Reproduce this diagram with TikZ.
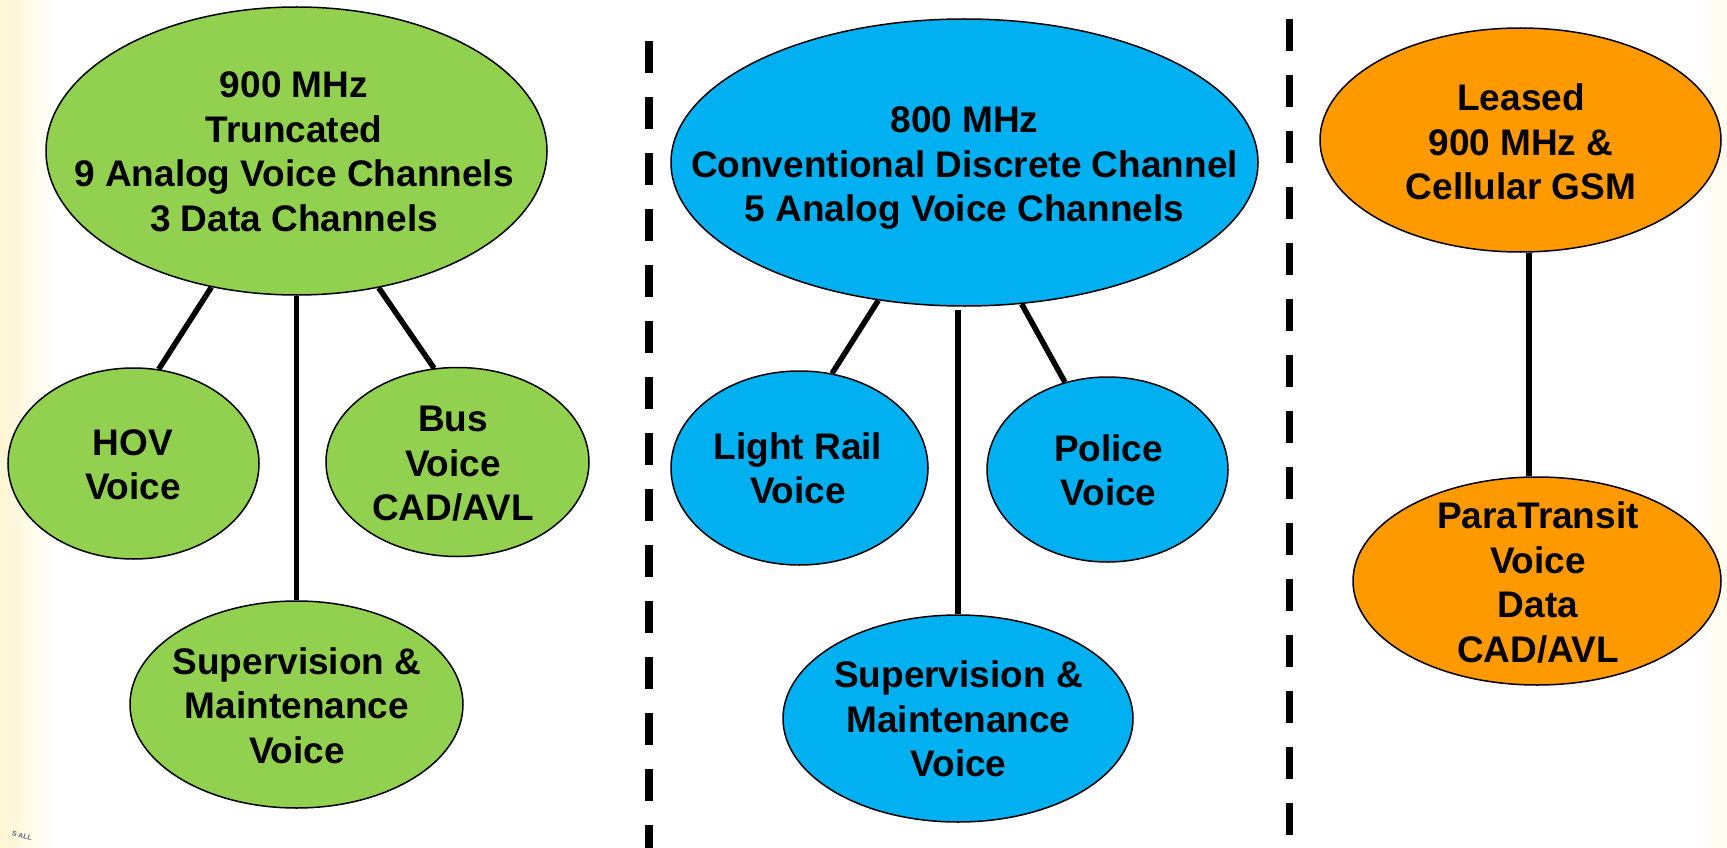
\documentclass[tikz,border=0pt]{standalone}
\usepackage{fontspec}
\setmainfont{Liberation Sans}
\usetikzlibrary{shapes.geometric,calc}
\definecolor{gfill}{HTML}{92D050}
\definecolor{bfill}{HTML}{00B0F0}
\definecolor{ofill}{HTML}{FF9900}
\definecolor{cream}{HTML}{FFF5D2}
\definecolor{creamlight}{HTML}{FFFCEC}
\definecolor{logo}{HTML}{5A6A80}
\tikzset{
  oval/.style={ellipse, draw=black, line width=1.5pt, inner sep=0pt},
  goval/.style={oval, fill=gfill},
  boval/.style={oval, fill=bfill},
  ooval/.style={oval, fill=ofill},
  lbl/.style={align=center, font=\fontsize{37pt}{44.5pt}\selectfont\bfseries, text depth=0pt, inner sep=0pt},
  link/.style={line width=5.5pt},
  divider/.style={line width=7.5pt, dash pattern=on 32pt off 24pt}
}
\begin{document}
\begin{tikzpicture}[x=1pt,y=-1pt]
\useasboundingbox (0,0) rectangle (1727,848);
\fill[white] (0,0) rectangle (1727,848);
\shade[left color=cream, right color=white] (0,0) rectangle (58,848);
\shade[left color=white, right color=creamlight] (1700,0) rectangle (1727,848);
\node[font=\fontsize{7pt}{8pt}\selectfont\bfseries, text=logo, rotate=-15] (logo) at (22,836) {S ALL};

% dividers
\coordinate (d1a) at (649,41);
\coordinate (d1b) at (649,848);
\coordinate (d2a) at (1289.5,19);
\coordinate (d2b) at (1289.5,848);
\draw[divider] (d1a) -- (d1b);
\draw[divider] (d2a) -- (d2b);

% green group
\node[goval, minimum width=501pt, minimum height=288pt] (gtop) at (296.5,151) {};
\node[goval, minimum width=251pt, minimum height=191pt] (hov) at (133.5,463.5) {};
\node[goval, minimum width=263pt, minimum height=189pt] (bus) at (457.5,462) {};
\node[goval, minimum width=333pt, minimum height=207pt] (gsup) at (296.5,704.5) {};
\node[lbl] (gtopT) at (294,151.5) {900 MHz\\Truncated\\9 Analog Voice Channels\\3 Data Channels};
\node[lbl] (hovT) at (133,464.5) {HOV\\Voice};
\node[lbl] (busT) at (453,463.5) {Bus\\Voice\\CAD/AVL};
\node[lbl] (gsupT) at (297,705.5) {Supervision \&\\Maintenance\\Voice};
\draw[link] (gtop.238.5) -- (hov.75);
\draw[link] (gtop.south) -- (gsup.north);
\draw[link] (gtop.301.5) -- (bus.104);

% blue group
\node[boval, minimum width=587pt, minimum height=287pt] (btop) at (964.5,162.5) {};
\node[boval, minimum width=257pt, minimum height=194pt] (rail) at (799.5,468) {};
\node[boval, minimum width=241pt, minimum height=185pt] (police) at (1107.5,469.5) {};
\node[boval, minimum width=350pt, minimum height=207pt] (bsup) at (958,718.5) {};
\node[lbl] (btopT) at (964.5,164.5) {800 MHz\\Conventional Discrete Channel\\5 Analog Voice Channels};
\node[lbl] (railT) at (798,468) {Light Rail\\Voice};
\node[lbl] (policeT) at (1108.5,470) {Police\\Voice};
\node[lbl] (bsupT) at (958.5,719) {Supervision \&\\Maintenance\\Voice};
\draw[link] (btop.238) -- (rail.71);
\draw[link] ([yshift=-3pt]btop.south -| bsup.north) -- (bsup.north);
\draw[link] (btop.292.5) -- (police.116.4);

% orange group
\node[ooval, minimum width=401pt, minimum height=224pt] (otop) at (1520.5,140) {};
\node[ooval, minimum width=368pt, minimum height=208pt] (para) at (1537,581) {};
\node[lbl] (otopT) at (1521,142) {Leased\\900 MHz \&\\Cellular GSM};
\node[lbl] (paraT) at (1538,582) {ParaTransit\\Voice\\Data\\CAD/AVL};
\draw[link] ([xshift=8.5pt]otop.south) -- ([xshift=-8pt]para.north);
\end{tikzpicture}
\end{document}
